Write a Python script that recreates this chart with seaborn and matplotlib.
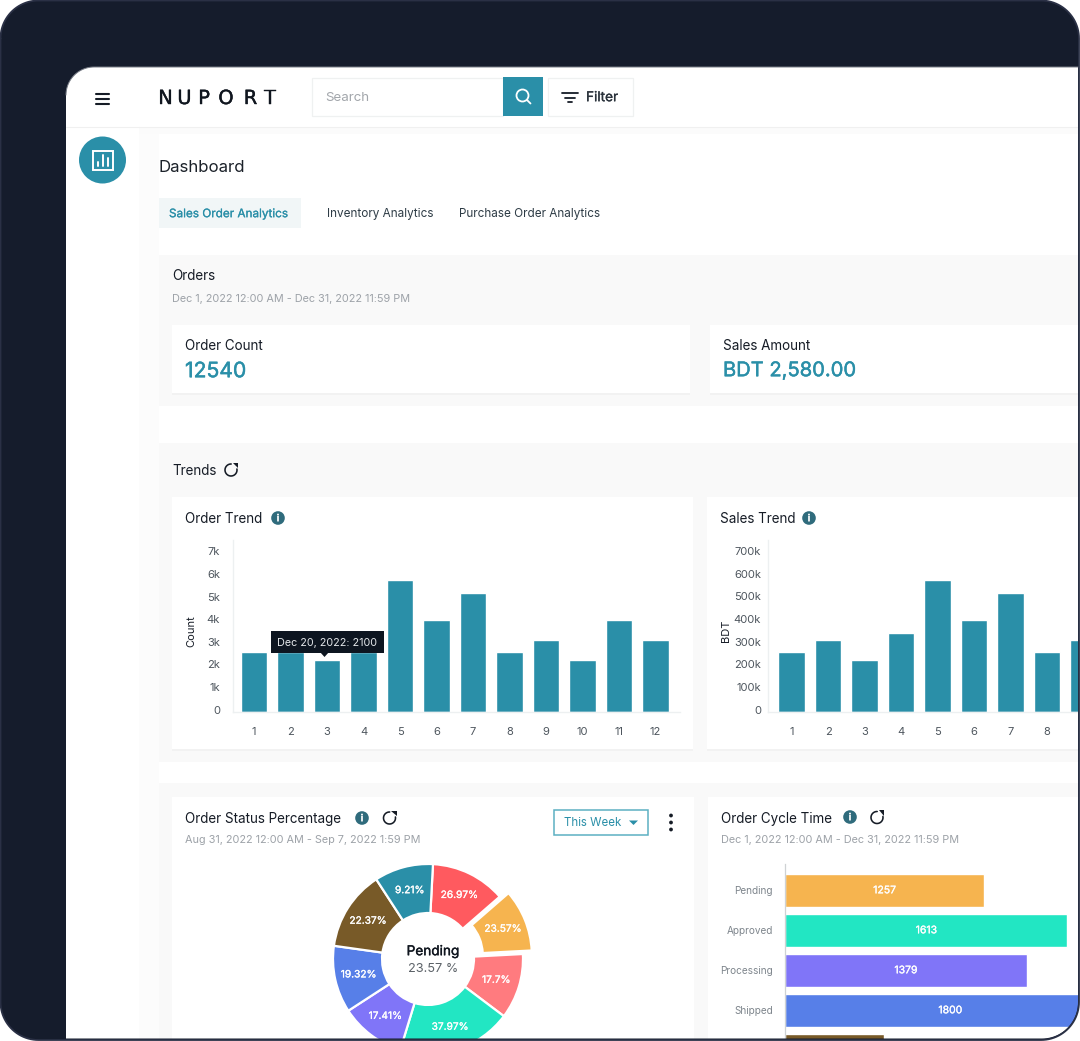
import matplotlib
matplotlib.use("Agg")
import matplotlib.patheffects as pe
import matplotlib.pyplot as plt
import numpy as np
import seaborn as sns
from matplotlib.patches import Circle, PathPatch, Polygon, Rectangle
from matplotlib.path import Path
from matplotlib.transforms import ScaledTranslation

W, H = 1080, 1041
TEAL = "#2a8fa8"
INFO = "#2f6b7c"
INK = "#161c26"
GREY = "#9da2a8"
AXIS_TEXT = "#4d555d"
PANEL = "#f9f9f9"

# values
order_days = ["1", "2", "3", "4", "5", "6", "7", "8", "9", "10", "11", "12"]
order_counts = [2640, 2640, 2300, 2640, 5860, 4070, 5270, 2640, 3200, 2300, 4070, 3200]
order_yticks = [0, 1000, 2000, 3000, 4000, 5000, 6000, 7000]
order_ylabels = ["0", "1k", "2k", "3k", "4k", "5k", "6k", "7k"]

sales_days = ["1", "2", "3", "4", "5", "6", "7", "8", "9"]
sales_amounts = [264000, 320000, 230000, 348000, 586000, 407000, 527000, 264000, 320000]
sales_yticks = [0, 100000, 200000, 300000, 400000, 500000, 600000, 700000]
sales_ylabels = ["0", "100k", "200k", "300k", "400k", "500k", "600k", "700k"]
sales_xlabels = ["1", "2", "3", "4", "5", "6", "7", "8", ""]

status_labels = ["26.97%", "23.57%", "17.7%", "37.97%", "17.41%", "19.32%", "22.37%", "9.21%"]
# slice sizes in degrees as drawn, the printed percentages do not add up
status_angles = [46, 38, 40, 70, 40, 41, 49, 36]
status_explode = [0, 0.1, 0, 0, 0, 0, 0, 0]
status_colors = ["#ff5a5f", "#f6b44f", "#ff7b7f", "#22e6c3", "#8075f8", "#577fe8", "#785a28", "#2a8fa8"]

cycle_names = ["Pending", "Approved", "Processing", "Shipped", "Other"]
# bar lengths as drawn, the printed numbers are not quite to scale
cycle_lengths = [1135, 1613, 1379, 1886, 566]
cycle_printed = ["1257", "1613", "1379", "1800", ""]
cycle_ticklabels = ["Pending", "Approved", "Processing", "Shipped", ""]
cycle_colors = ["#f6b44f", "#22e6c3", "#8075f8", "#577fe8", "#785a28"]

sns.set_theme(style="white")
plt.rcParams["font.family"] = ["Inter", "DejaVu Sans"]


def px_axes(fig, x0, y0, x1, y1, zorder=1):
    """Axes from a pixel box, y counted from the top."""
    return fig.add_axes([x0 / W, 1 - y1 / H, (x1 - x0) / W, (y1 - y0) / H], zorder=zorder)


def thicken(text, amount=0.2):
    # the Inter here has one weight only, so medium text gets a thin outline
    text.set_path_effects([pe.withStroke(linewidth=amount, foreground=text.get_color())])


def label(ax, x, y, s, size=9.5, color=INK, ha="left", bold=0.0, **kw):
    t = ax.text(x, y + 2.2, s, fontsize=size, color=color, ha=ha, va="center", **kw)
    if bold:
        thicken(t, bold)
    return t


def box(ax, x0, y0, x1, y1, fc, ec="none", lw=0.0):
    ax.add_patch(Rectangle((x0, y0), x1 - x0, y1 - y0, fc=fc, ec=ec, lw=lw))


def info_icon(ax, x, y):
    ax.add_patch(Circle((x, y), 6.8, fc=INFO, ec="none"))
    label(ax, x, y - 2, "i", size=7, color="white", ha="center", bold=0.4)


def refresh_icon(ax, x, y, r=6):
    t = np.radians(np.linspace(-10, 272, 40))
    ax.plot(x + r * np.cos(t), y + r * np.sin(t), color=INK, lw=1.15, solid_capstyle="round")
    tip = np.array([[x + 1.6, y - 7.2], [x + 7, y - 7.2], [x + 7, y - 1.8]])
    ax.add_patch(Polygon(tip, fc=INK, ec="none"))


def rounded(x0, y0, x1, y1, tl, tr, br, bl):
    """Outline of a box with its own radius per corner, going clockwise on screen."""
    pts = []
    corners = [(x0 + tl, y0 + tl, tl, 180), (x1 - tr, y0 + tr, tr, 270),
               (x1 - br, y1 - br, br, 0), (x0 + bl, y1 - bl, bl, 90)]
    for cx, cy, r, start in corners:
        t = np.radians(np.linspace(start, start + 90, 24))
        pts.append(np.column_stack([cx + r * np.cos(t), cy + r * np.sin(t)]))
    return np.vstack(pts)


def ring(ax, outer, inner, color):
    """Fill the space between two outlines."""
    verts = np.vstack([outer, outer[:1], inner[::-1], inner[-1:]])
    codes = [Path.MOVETO] + [Path.LINETO] * (len(outer) - 1) + [Path.CLOSEPOLY]
    codes += [Path.MOVETO] + [Path.LINETO] * (len(inner) - 1) + [Path.CLOSEPOLY]
    ax.add_patch(PathPatch(Path(verts, codes), fc=color, ec="none", lw=0))


def draw_page(ax):
    # soft shadows, panels and cards
    box(ax, 139, 127, 159, 1041, "#fcfcfc")
    box(ax, 139, 127, 1080, 134, "#fbfbfb")
    box(ax, 159, 255, 1080, 406, PANEL)
    box(ax, 159, 443, 1080, 762, PANEL)
    box(ax, 159, 783, 1080, 1041, PANEL)
    for x0, y0, x1, y1 in [(172, 325, 690, 393), (710, 325, 1080, 393), (172, 497, 693, 749),
                           (707, 497, 1080, 749), (172, 797, 694, 1041), (708, 797, 1080, 1041)]:
        box(ax, x0, y0 + 1, x1, y1 + 1.5, "#f2f2f2")
        box(ax, x0, y0, x1, y1, "white")

    # sidebar
    ax.plot([66, 139], [126.5, 126.5], color="#f0f0f0", lw=0.8)
    for y in [94, 99, 104]:
        ax.plot([95.5, 109], [y, y], color=INK, lw=1.5)
    ax.add_patch(Circle((102.5, 160), 23.5, fc=TEAL, ec="none"))
    box(ax, 92.5, 150.5, 112.5, 169.5, "none", ec="white", lw=1.4)
    for x, top in [(97.5, 162), (102.5, 155), (107.5, 158)]:
        ax.plot([x, x], [top, 165.5], color="white", lw=1.4)

    # header
    ax.plot([139, 1080], [127, 127], color="#f0f0f0", lw=0.8)
    for x, ch in zip([165.5, 184.5, 204, 226, 250.5, 270.5], "NUPORT"):
        t = ax.text(x, 96.5, ch, fontsize=14, ha="center", va="center_baseline", color="#10161f",
                    family="DejaVu Sans")
        thicken(t, 0.3)
    box(ax, 311.5, 77.5, 503, 116, "white", ec="#eff1f1", lw=0.9)
    label(ax, 325, 96, "Search", size=9.6, color="#a2a6ab")
    box(ax, 503, 77, 543, 116, TEAL)
    ax.add_patch(Circle((522.5, 95.5), 6, fc="none", ec="white", lw=1.3))
    ax.plot([527, 530.5], [100, 103.5], color="white", lw=1.3)
    box(ax, 547.5, 77.5, 633, 116, "white", ec="#eff1f1", lw=0.9)
    for x0, x1, y in [(562, 578, 92.5), (565, 575, 97.5), (568, 572, 102)]:
        ax.plot([x0, x1], [y, y], color=INK, lw=1.3)
    label(ax, 586, 95, "Filter", size=9.8, color="#2a323b", bold=0.2)

    # title and tabs
    label(ax, 159, 165.3, "Dashboard", size=12.1, color="#1b2129")
    box(ax, 159, 198, 301, 228, "#f1f6f7")
    label(ax, 169, 212, "Sales Order Analytics", size=8.45, color=TEAL, bold=0.15)
    label(ax, 327, 212, "Inventory Analytics", size=8.45, color="#2e3c46")
    label(ax, 459, 212, "Purchase Order Analytics", size=8.45, color="#2e3c46")

    # orders
    label(ax, 172, 274, "Orders", size=9.7)
    label(ax, 172, 297, "Dec 1, 2022 12:00 AM - Dec 31, 2022 11:59 PM", size=7.84, color=GREY)
    label(ax, 185, 344, "Order Count", size=9.7)
    label(ax, 185, 369, "12540", size=15.2, color=TEAL, bold=0.35)
    label(ax, 723, 344, "Sales Amount", size=9.7)
    label(ax, 723, 369, "BDT 2,580.00", size=14.5, color=TEAL, bold=0.35)

    # card headings
    label(ax, 172, 469, "Trends", size=9.7)
    refresh_icon(ax, 231, 470)
    label(ax, 185, 517, "Order Trend", size=9.7)
    info_icon(ax, 278, 518)
    label(ax, 720, 517, "Sales Trend", size=9.7)
    info_icon(ax, 809, 518)
    label(ax, 185, 817, "Order Status Percentage", size=9.7)
    info_icon(ax, 362, 818)
    refresh_icon(ax, 389.5, 818)
    label(ax, 185, 837.5, "Aug 31, 2022 12:00 AM - Sep 7, 2022 1:59 PM", size=7.84, color=GREY)
    box(ax, 553.5, 810, 647.5, 835, "white", ec="#5cb0c2", lw=1.1)
    label(ax, 564, 821, "This Week", size=8.3, color=TEAL)
    ax.add_patch(Polygon([[629, 820.5], [638, 820.5], [633.5, 825]], fc=TEAL, ec="none"))
    for y in [815.5, 822.5, 829.5]:
        ax.add_patch(Circle((671, y), 1.9, fc=INK, ec="none"))
    label(ax, 721, 817, "Order Cycle Time", size=9.7)
    info_icon(ax, 850, 817)
    refresh_icon(ax, 877, 817.5)
    label(ax, 721, 837.5, "Dec 1, 2022 12:00 AM - Dec 31, 2022 11:59 PM", size=7.84, color=GREY)


def draw_trend(fig, days, values, xlabels, yticks, ylabels, name, box_px, slot, first_center, ytop, label_x, pad):
    x0, y0, x1, y1 = box_px
    ax = px_axes(fig, x0, y0, x1, y1)
    sns.barplot(x=days, y=values, ax=ax, color=TEAL, saturation=1, width=0.73)
    left = -(first_center - x0) / slot
    ax.set_xlim(left, left + (x1 - x0) / slot)
    ax.set_ylim(0, ytop)
    ax.set_yticks(yticks, ylabels)
    ax.set_xticks(range(len(xlabels)), xlabels)
    ax.tick_params(axis="y", length=0, pad=pad, labelsize=8, labelcolor=AXIS_TEXT)
    ax.tick_params(axis="x", length=0, pad=11, labelsize=8, labelcolor=AXIS_TEXT)
    # in the picture the y labels sit a little above their true height
    nudge = ScaledTranslation(0, 2.5 / 100, fig.dpi_scale_trans)
    for tick_label in ax.get_yticklabels():
        tick_label.set_transform(tick_label.get_transform() + nudge)
    ax.set_ylabel(name, fontsize=8, color=INK)
    ax.yaxis.set_label_coords((label_x - x0) / (x1 - x0), 0.47)
    sns.despine(ax=ax)
    for side in ["left", "bottom"]:
        ax.spines[side].set_color("#edf0f1")
        ax.spines[side].set_linewidth(1.0)
    ax.patch.set_alpha(0)
    return ax


def draw_status(fig):
    # radius 95 px, pie keeps 1.25 radii each side
    half = 95 * 1.25
    ax = px_axes(fig, 428 - half, 959 - half, 428 + half, 959 + half)
    printed = iter(status_labels)
    _, _, autotexts = ax.pie(status_angles, colors=status_colors, explode=status_explode, startangle=87,
                             counterclock=False, autopct=lambda p: next(printed), pctdistance=0.75,
                             wedgeprops={"width": 0.516, "edgecolor": "white", "linewidth": 1.6},
                             textprops={"color": "white", "fontsize": 7.3})
    for t in autotexts:
        thicken(t, 0.2)
    ax.patch.set_alpha(0)


def draw_cycle(fig):
    ax = px_axes(fig, 785.2, 864, 1120, 1070)
    sns.barplot(x=cycle_lengths, y=cycle_names, hue=cycle_names, palette=cycle_colors,
                ax=ax, legend=False, saturation=1, width=0.83, orient="h")
    ax.set_xlim(0, 334.8 / 0.175)
    ax.set_ylim((1070 - 890.3) / 40, (864 - 890.3) / 40)
    ax.set_xticks([])
    ax.set_yticks(range(len(cycle_ticklabels)), cycle_ticklabels)
    ax.tick_params(axis="y", length=0, pad=9, labelsize=7.2, labelcolor="#7f868d")
    ax.set_xlabel("")
    ax.set_ylabel("")
    for bars, text in zip(ax.containers, cycle_printed):
        for t in ax.bar_label(bars, labels=[text] * len(bars), label_type="center",
                              color="white", fontsize=7.5):
            thicken(t, 0.2)
    sns.despine(ax=ax, bottom=True)
    ax.spines["left"].set_color("#cfd2d4")
    ax.spines["left"].set_linewidth(0.9)
    ax.patch.set_alpha(0)


def draw_overlay(ax):
    # tooltip over the order bars
    ax.add_patch(Polygon([[320, 652], [329, 652], [324.5, 657]], fc="#0d1520", ec="none"))
    box(ax, 270.5, 631, 384, 653, "#0d1520")
    label(ax, 327, 641, "Dec 20, 2022: 2100", size=7.75, color="#e4e7ea", ha="center")

    # donut centre
    label(ax, 433, 949, "Pending", size=9.8, color="#10161f", ha="center", bold=0.25)
    label(ax, 433, 966.8, "23.57 %", size=9.2, color="#5c6268", ha="center")

    # device frame on top of everything, so the cards get cut off by it
    outer = rounded(0.5, 0.5, 1079, 1040, 38, 38, 38, 38)
    screen = rounded(66, 67, 1078, 1038.5, 28, 0, 36, 0)
    sheet = rounded(-2, -2, W + 2, H + 2, 0, 0, 0, 0)
    ring(ax, sheet, outer, "white")
    ring(ax, outer, screen, "#151c2c")
    ax.plot(*np.vstack([outer, outer[:1]]).T, color="#2a3045", lw=1.3)
    ax.plot(*screen[:48].T, color="#767b85", lw=0.7)


fig = plt.figure(figsize=(W / 100, H / 100), dpi=100, facecolor="white")

page = px_axes(fig, 0, 0, W, H, zorder=0)
page.set_xlim(0, W)
page.set_ylim(H, 0)
page.axis("off")
draw_page(page)

draw_trend(fig, order_days, order_counts, order_days, order_yticks, order_ylabels, "Count",
           (233.2, 540, 679.8, 712), 36.5, 254, 172 / 0.0226, 196.5, 9.5)
draw_trend(fig, sales_days, sales_amounts, sales_xlabels, sales_yticks, sales_ylabels, "BDT",
           (768, 540, 1100, 712), 36.5, 791.65, 172 / 0.000226, 731, 5)
draw_status(fig)
draw_cycle(fig)

top = px_axes(fig, 0, 0, W, H, zorder=5)
top.set_xlim(0, W)
top.set_ylim(H, 0)
top.axis("off")
top.patch.set_alpha(0)
draw_overlay(top)

fig.savefig("out.png", dpi=100)
